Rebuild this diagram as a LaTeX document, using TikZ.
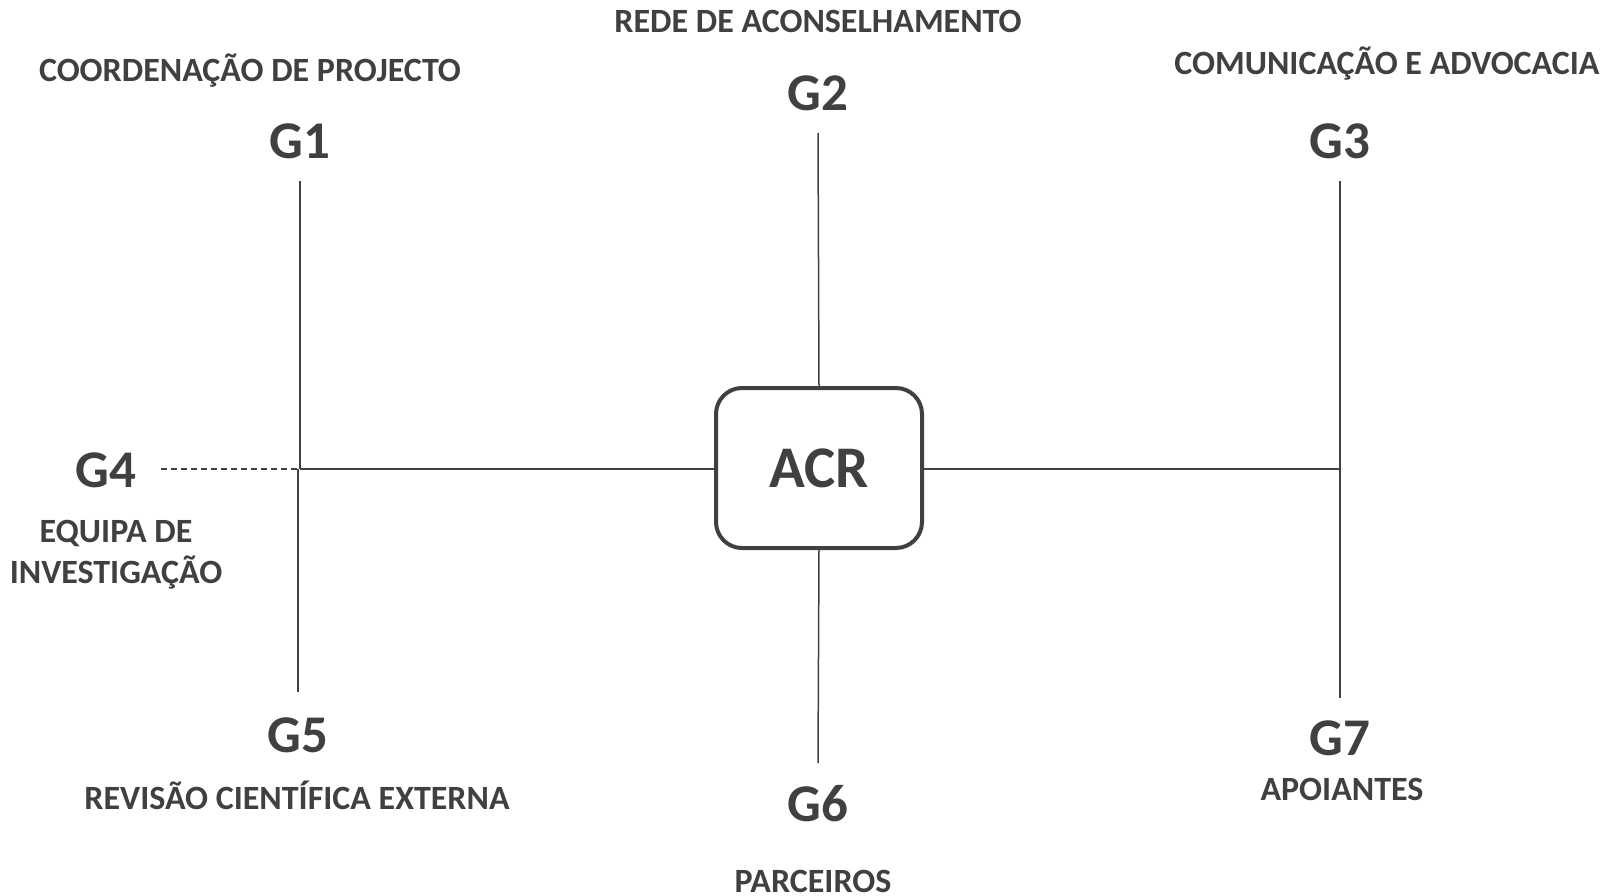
\documentclass[tikz,border=0pt]{standalone}
\usepackage{fontspec}
\setmainfont{Carlito}
\definecolor{ink}{HTML}{404040}
\begin{document}
\begin{tikzpicture}[x=1pt,y=-1pt,
  gbig/.style={text=ink,font=\bfseries\fontsize{53}{53}\selectfont,inner sep=0pt},
  glab/.style={text=ink,font=\bfseries\fontsize{34}{41}\selectfont,inner sep=0pt,align=center},
  conn/.style={draw=ink,line width=1.5pt},
  dconn/.style={draw=ink,line width=1.3pt,dashed,dash pattern=on 6pt off 4pt},
  box/.style={draw=ink,line width=4pt,rounded corners=26pt,minimum width=206pt,minimum height=160pt,text=ink,font=\bfseries\fontsize{59}{59}\selectfont}]
\useasboundingbox (0,0) rectangle (1610,896);
% main box
\node[box] (acr) at (819,468) {ACR};
% group labels
\node[gbig] (g1) at (300,141) {G1};
\node[gbig] (g2) at (818,93) {G2};
\node[gbig] (g3) at (1340,141) {G3};
\node[gbig] (g4) at (106,470) {G4};
\node[gbig] (g5) at (298,735) {G5};
\node[gbig] (g6) at (818,804) {G6};
\node[gbig] (g7) at (1340,738) {G7};
% descriptions
\node[glab] (l1) at (250,71) {COORDENAÇÃO DE PROJECTO};
\node[glab] (l2) at (818,21) {REDE DE ACONSELHAMENTO};
\node[glab] (l3) at (1387,64) {COMUNICAÇÃO E ADVOCACIA};
\node[glab] (l4) at (116,555) {EQUIPA DE\\INVESTIGAÇÃO};
\node[glab] (l5) at (297,795) {REVISÃO CIENTÍFICA EXTERNA};
\node[glab,text depth=0pt,anchor=base] (l6) at (813,892) {PARCEIROS};
\node[glab] (l7) at (1342,789) {APOIANTES};
% connector end points
\coordinate (e1) at (300,181);
\coordinate (j1) at (300,469);
\coordinate (j5) at (298,469);
\coordinate (e5) at (298,692);
\coordinate (e2) at (818,133);
\coordinate (e6) at (818,763);
\coordinate (e3) at (1340,181);
\coordinate (j3) at (1340,469);
\coordinate (e7) at (1340,698);
\coordinate (e4) at (161,469);
% connectors
\draw[conn] (e1) -- (j1);
\draw[conn] (j5) -- (e5);
\draw[dconn] (e4) -- (acr.west |- j1);
\draw[conn] (j1) -- (acr.west |- j1);
\draw[conn] (acr.north) -- (e2);
\draw[conn] (acr.south) -- (e6);
\draw[conn] (acr.east |- j3) -- (j3);
\draw[conn] (e3) -- (e7);
\end{tikzpicture}
\end{document}
